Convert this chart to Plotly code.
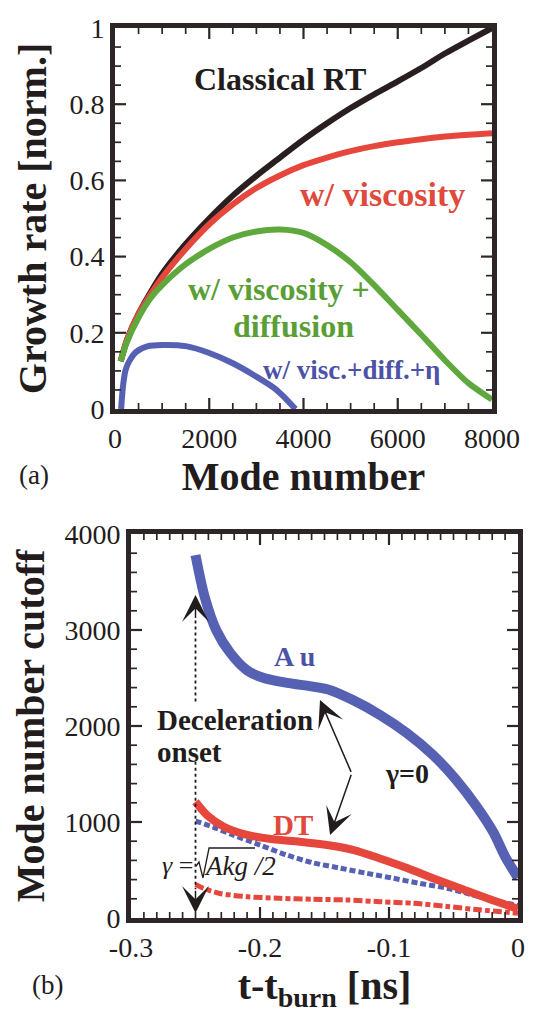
import plotly.graph_objects as go

# ---------------- Panel (a) data ----------------
mode_number = [120, 250, 500, 750, 1000, 1500, 2000, 2500, 3000, 3500, 4000,
               4500, 5000, 5500, 6000, 6500, 7000, 7500, 8000]
rate_classical = [0.125, 0.18, 0.25, 0.305, 0.355, 0.433, 0.50, 0.56, 0.612, 0.66, 0.707,
                  0.75, 0.79, 0.826, 0.86, 0.895, 0.933, 0.967, 1.0]
rate_viscosity = [0.125, 0.18, 0.25, 0.30, 0.345, 0.42, 0.485, 0.537, 0.58, 0.613, 0.64,
                  0.66, 0.677, 0.69, 0.70, 0.708, 0.715, 0.72, 0.724]
rate_visc_diff = [0.125, 0.175, 0.24, 0.29, 0.325, 0.38, 0.42, 0.45, 0.466, 0.471, 0.462,
                  0.43, 0.385, 0.325, 0.26, 0.195, 0.128, 0.068, 0.025]
mode_number_eta = [130, 170, 220, 300, 450, 700, 1000, 1500, 2000, 2500, 3000, 3400, 3600, 3830]
rate_visc_diff_eta = [0.0, 0.06, 0.10, 0.125, 0.15, 0.165, 0.168, 0.165, 0.147, 0.12, 0.085,
                      0.053, 0.03, 0.0]

a_xtick_vals = [0, 2000, 4000, 6000, 8000]
a_xtick_text = ["0", "2000", "4000", "6000", "8000"]
a_ytick_vals = [0, 0.2, 0.4, 0.6, 0.8, 1.0]
a_ytick_text = ["0", "0.2", "0.4", "0.6", "0.8", "1"]

# ---------------- Panel (b) data ----------------
t_au = [-0.250, -0.243, -0.234, -0.223, -0.210, -0.197, -0.179, -0.159, -0.146, -0.128,
        -0.107, -0.086, -0.066, -0.048, -0.032, -0.019, -0.010, 0.000]
cutoff_au = [3780, 3350, 3000, 2760, 2580, 2500, 2450, 2410, 2375, 2270,
             2115, 1925, 1700, 1440, 1160, 890, 640, 420]
t_dt = [-0.250, -0.241, -0.228, -0.210, -0.190, -0.169, -0.148, -0.128, -0.107, -0.086,
        -0.066, -0.045, -0.024, 0.000]
cutoff_dt = [1210, 1070, 950, 865, 820, 795, 760, 710, 620, 520, 415, 310, 205, 95]
t_au_sq = [-0.250, -0.236, -0.221, -0.200, -0.179, -0.159, -0.138, -0.117, -0.097, -0.076,
           -0.055, -0.035, -0.014, 0.000]
cutoff_au_sq = [1010, 945, 865, 760, 655, 575, 520, 465, 415, 360, 310, 240, 170, 130]
t_dt_sq = [-0.250, -0.244, -0.231, -0.210, -0.185, -0.159, -0.133, -0.107, -0.081, -0.055,
           -0.030, 0.000]
cutoff_dt_sq = [350, 310, 255, 222, 205, 195, 188, 170, 153, 120, 85, 50]

b_xtick_vals = [-0.3, -0.2, -0.1, 0.0]
b_xtick_text = ["-0.3", "-0.2", "-0.1", "0"]
b_ytick_vals = [0, 1000, 2000, 3000, 4000]
b_ytick_text = ["0", "1000", "2000", "3000", "4000"]

t_onset = -0.25

# ---------------- styling ----------------
FONT = "Liberation Serif"
FRAME = "#2e2626"
INK = "#231c1c"
C_BLACK = "#2a1f20"
C_RED = "#e6473c"
C_GREEN = "#5fa83e"
C_BLUE = "#5661b4"
T_RED = "#e04a3c"
T_GREEN = "#5a9e36"
T_BLUE = "#4c52a6"

# the page has an 8px body margin: the figure is sized so it ends at the window edge
OFF = 8
W, H = 533 - OFF, 1013 - OFF


def px(x):
    return (x - OFF) / W


def py(y):
    return 1 - (y - OFF) / H


fig = go.Figure()


def line(x, y, color, width, xa, ya, dash=None):
    fig.add_trace(go.Scatter(
        x=x, y=y, mode="lines", xaxis=xa, yaxis=ya, showlegend=False, hoverinfo="skip",
        line=dict(color=color, width=width, shape="spline", smoothing=0.8, dash=dash)))


line(mode_number, rate_classical, C_BLACK, 6, "x", "y")
line(mode_number, rate_viscosity, C_RED, 6, "x", "y")
line(mode_number, rate_visc_diff, C_GREEN, 6, "x", "y")
line(mode_number_eta, rate_visc_diff_eta, C_BLUE, 6, "x", "y")

line(t_au_sq, cutoff_au_sq, C_BLUE, 5, "x2", "y2", dash="6px,3px")
line(t_dt_sq, cutoff_dt_sq, C_RED, 5, "x2", "y2", dash="9px,3px,5px,3px")
line(t_dt, cutoff_dt, C_RED, 8, "x2", "y2")
line(t_au, cutoff_au, C_BLUE, 10, "x2", "y2")


def main_axis(domain, anchor, rng, vals, text, title, standoff):
    return dict(
        domain=domain, anchor=anchor, range=rng, automargin=False,
        tickmode="array", tickvals=vals, ticktext=text, ticks="",
        showline=True, linewidth=5, linecolor=FRAME, mirror=True,
        showgrid=False, zeroline=False,
        tickfont=dict(family=FONT, size=28, color=INK),
        title=dict(text=title, standoff=standoff,
                   font=dict(family=FONT, size=40, color=INK)),
    )


fig.update_layout(
    template="none",
    width=W, height=H, margin=dict(l=0, r=0, t=0, b=0, autoexpand=False),
    paper_bgcolor="white", plot_bgcolor="white", showlegend=False,
    xaxis=main_axis([px(115), px(492)], "y", [0, 8000], a_xtick_vals, a_xtick_text,
                    "<b>Mode number</b>", 0),
    yaxis=main_axis([py(409), py(28)], "x", [0, 1], a_ytick_vals, a_ytick_text,
                    "<b>Growth rate [norm.]</b>", 12),
    xaxis2=main_axis([px(131), px(518)], "y2", [-0.3, 0], b_xtick_vals, b_xtick_text,
                     "<b>t-t<sub>burn</sub> [ns]</b>", 0),
    yaxis2=main_axis([py(918), py(534)], "x2", [0, 4000], b_ytick_vals, b_ytick_text,
                     "<b>Mode number cutoff</b>", 12),
)


# inside tick marks (major and minor) on all four sides, placed through the axis scales
def tick_positions(rng, major, minor_step):
    n = int(round((rng[1] - rng[0]) / minor_step))
    out = []
    for k in range(1, n):
        v = round(rng[0] + k * minor_step, 6)
        is_major = any(abs(v - m) < minor_step * 1e-3 for m in major)
        out.append((v, is_major))
    return out


def add_frame_ticks(xref, yref, xr, yr, xmaj, ymaj, xstep, ystep):
    common = dict(type="line", xref=xref, yref=yref, layer="above")
    for v, big in tick_positions(xr, xmaj, xstep):
        L = 11 if big else 6
        st = dict(color=FRAME, width=2.2 if big else 1.7)
        fig.add_shape(**common, x0=v, x1=v, ysizemode="pixel", yanchor=yr[0], y0=0, y1=L, line=st)
        fig.add_shape(**common, x0=v, x1=v, ysizemode="pixel", yanchor=yr[1], y0=0, y1=-L, line=st)
    for v, big in tick_positions(yr, ymaj, ystep):
        L = 11 if big else 6
        st = dict(color=FRAME, width=2.2 if big else 1.7)
        fig.add_shape(**common, y0=v, y1=v, xsizemode="pixel", xanchor=xr[0], x0=0, x1=L, line=st)
        fig.add_shape(**common, y0=v, y1=v, xsizemode="pixel", xanchor=xr[1], x0=0, x1=-L, line=st)


add_frame_ticks("x", "y", [0, 8000], [0, 1], a_xtick_vals, a_ytick_vals, 500, 0.05)
add_frame_ticks("x2", "y2", [-0.3, 0], [0, 4000], b_xtick_vals, b_ytick_vals, 0.01, 200)


def label(text, x, y, color, size, xref="x", yref="y", xanchor="center", bold=True):
    t = f"<b>{text}</b>" if bold else text
    fig.add_annotation(text=t, x=x, y=y, xref=xref, yref=yref, showarrow=False,
                       xanchor=xanchor, yanchor="middle",
                       font=dict(family=FONT, size=size, color=color))


# panel (a) labels
label("Classical RT", 3500, 0.866, INK, 32)
label("w/ viscosity", 5674, 0.563, T_RED, 34)
label("w/ viscosity +", 3480, 0.316, T_GREEN, 32)
label("diffusion", 3790, 0.219, T_GREEN, 32)
label("w/ visc.+diff.+η", 5029, 0.103, T_BLUE, 27)
label("(a)", px(34), py(475), INK, 27, xref="paper", yref="paper", bold=False)

# panel (b) labels
label("A u", -0.1729, 2722, T_BLUE, 28, "x2", "y2")
label("DT", -0.1742, 969, T_RED, 29, "x2", "y2")
label("γ=0", -0.1044, 1507, INK, 28, "x2", "y2", xanchor="left")
label("Deceleration", -0.2814, 2062, INK, 29, "x2", "y2", xanchor="left")
label("onset", -0.2814, 1732, INK, 29, "x2", "y2", xanchor="left")
label("<i>γ</i> =", -0.2640, 545, INK, 26, "x2", "y2", bold=False)
label("<i>Akg /2</i>", -0.2155, 545, INK, 27, "x2", "y2", bold=False)
label("(b)", px(47), py(985), INK, 27, xref="paper", yref="paper", bold=False)

# radical sign of the square root, drawn in data space of panel (b)
fig.add_shape(type="path", xref="x2", yref="y2",
              path="M -0.2496,540 L -0.2473,583 L -0.2442,417 L -0.2395,729 L -0.2039,729",
              line=dict(color=INK, width=1.3))

# dotted "deceleration onset" marker
for y0, y1 in [(3100, 2240), (1628, 300)]:
    fig.add_shape(type="line", xref="x2", yref="y2", x0=t_onset, x1=t_onset, y0=y0, y1=y1,
                  line=dict(color=INK, width=1.8, dash="dot"))


def arrow(x, y, ax, ay, size=3.0):
    fig.add_annotation(x=x, y=y, ax=ax, ay=ay, xref="x2", yref="y2", axref="x2", ayref="y2",
                       text="", showarrow=True, arrowhead=3, arrowsize=size, arrowwidth=1.5,
                       arrowcolor=INK)


arrow(t_onset, 3365, t_onset, 3110)
arrow(t_onset, 52, t_onset, 300)
arrow(-0.1535, 2271, -0.1289, 1507)
arrow(-0.1457, 865, -0.1289, 1507)

fig.write_html("out.html")
